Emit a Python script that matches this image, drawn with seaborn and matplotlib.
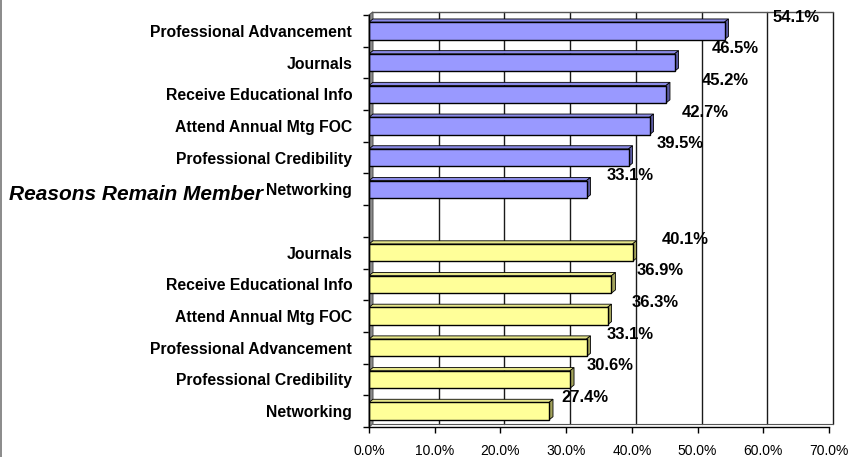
import numpy as np
import pandas as pd
import matplotlib.pyplot as plt
from matplotlib.patches import Polygon
from matplotlib.lines import Line2D
import seaborn as sns

# --- DATA ---
blue_labels = ['Professional Advancement', 'Journals', 'Receive Educational Info',
               'Attend Annual Mtg FOC', 'Professional Credibility', 'Networking']
blue_values = [54.1, 46.5, 45.2, 42.7, 39.5, 33.1]
yellow_labels = ['Journals', 'Receive Educational Info', 'Attend Annual Mtg FOC',
                 'Professional Advancement', 'Professional Credibility', 'Networking']
yellow_values = [40.1, 36.9, 36.3, 33.1, 30.6, 27.4]
x_ticks = [0, 10, 20, 30, 40, 50, 60, 70]
side_title = 'Reasons Remain Member'

sns.set_style("white")
plt.rcParams['font.family'] = ['Liberation Sans', 'DejaVu Sans']
plt.rcParams['text.color'] = 'black'
plt.rcParams['xtick.color'] = 'black'
plt.rcParams['ytick.color'] = 'black'
plt.rcParams['axes.labelcolor'] = 'black'

# unique keys so that repeated labels get their own slot
blue_keys = ['B_' + l for l in blue_labels]
yellow_keys = ['Y_' + l for l in yellow_labels]
df = pd.DataFrame({
    'key': blue_keys + yellow_keys,
    'value': blue_values + yellow_values,
    'group': ['blue'] * len(blue_keys) + ['yellow'] * len(yellow_keys),
})
order = blue_keys + ['gap'] + yellow_keys
tick_labels = blue_labels + [''] + yellow_labels

front = {'blue': '#9999FF', 'yellow': '#FFFF99'}
top_face = {'blue': '#8A8AE6', 'yellow': '#E6E68A'}
side_face = {'blue': '#5C5CA3', 'yellow': '#A3A35C'}

fig = plt.figure(figsize=(8.48, 4.57), dpi=100)
ax = fig.add_axes([369 / 848, 30 / 457, 460 / 848, 412 / 457])

sns.barplot(data=df, x='value', y='key', hue='group', order=order, palette=front,
            saturation=1, dodge=False, width=0.55, edgecolor='black', linewidth=1,
            legend=False, ax=ax, zorder=3)
bars = list(ax.patches)

ax.set_xlim(0, 70)
ax.set_ylim(len(order) - 0.5, -0.5)

# pseudo 3D depth (data units)
dx, dy = 0.6, 0.1
n = len(order)

# side wall and back wall
ax.add_patch(Polygon([(0, -0.5), (dx, -0.5 - dy), (dx, n - 0.5 - dy), (0, n - 0.5)],
                     closed=True, facecolor='#8C8C8C', edgecolor='#555555', lw=0.8,
                     zorder=2, clip_on=False))
for t in x_ticks[1:]:
    ax.plot([t + dx, t + dx], [-0.5 - dy, n - 0.5 - dy], color='#1a1a1a', lw=1,
            zorder=1, clip_on=False)
ax.plot([dx, 70 + dx], [-0.5 - dy, -0.5 - dy], color='#555555', lw=1, zorder=1, clip_on=False)
ax.plot([dx, 70 + dx], [n - 0.5 - dy, n - 0.5 - dy], color='#555555', lw=0.8, zorder=1, clip_on=False)

# bar top and end faces
for p in bars:
    x0, y0, w, h = p.get_x(), p.get_y(), p.get_width(), p.get_height()
    g = 'blue' if p.get_facecolor()[2] > 0.9 else 'yellow'
    ax.add_patch(Polygon([(x0, y0), (x0 + dx, y0 - dy), (x0 + w + dx, y0 - dy), (x0 + w, y0)],
                         closed=True, facecolor=top_face[g], edgecolor='black', lw=0.6, zorder=2.5))
    ax.add_patch(Polygon([(x0 + w, y0), (x0 + w + dx, y0 - dy), (x0 + w + dx, y0 + h - dy), (x0 + w, y0 + h)],
                         closed=True, facecolor=side_face[g], edgecolor='black', lw=0.6, zorder=2.5))

# value labels (offset like the original 3D chart)
positions = list(range(len(blue_values))) + list(range(len(blue_values) + 1, n))
for pos, v in zip(positions, blue_values + yellow_values):
    ax.text(v * 1.2, pos - 0.43, f'{v:.1f}%', ha='center', va='center',
            fontsize=12, fontweight='bold', zorder=5, clip_on=False)

# axes styling
for s in ['top', 'right']:
    ax.spines[s].set_visible(False)
for s in ['left', 'bottom']:
    ax.spines[s].set_color('black')
    ax.spines[s].set_linewidth(1)
    ax.spines[s].set_zorder(4)

ax.set_xticks(x_ticks)
ax.set_xticklabels([f'{t:.1f}%' for t in x_ticks])
ax.tick_params(axis='x', length=4, width=1, direction='out', pad=8, labelsize=10,
               color='black', labelcolor='black', bottom=True)

ax.set_yticks(np.arange(-0.5, n, 1))
ax.set_yticklabels([])
ax.set_yticks(np.arange(n), minor=True)
ax.set_yticklabels(tick_labels, minor=True, fontsize=11.3, fontweight='bold')
ax.tick_params(axis='y', which='major', length=4, width=1, direction='out', color='black', left=True)
ax.tick_params(axis='y', which='minor', length=0, pad=12, labelcolor='black')
ax.set_xlabel('')
ax.set_ylabel('')
ax.grid(False)

fig.text(9 / 848, 1 - 194 / 457, side_title, ha='left', va='center',
         fontsize=15, fontweight='bold', fontstyle='italic')
fig.add_artist(Line2D([0.0015, 0.0015], [0, 1], color='#777777', lw=1.2))

fig.savefig('out.png', dpi=100)
